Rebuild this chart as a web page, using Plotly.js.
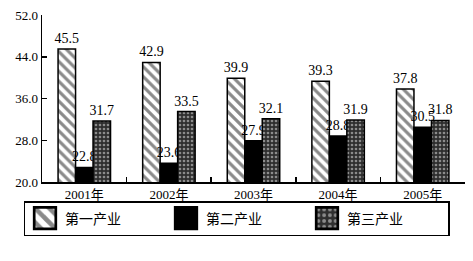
<!DOCTYPE html>
<html><head><meta charset="utf-8">
<script src="https://cdn.plot.ly/plotly-3.0.1.min.js"></script>
<style>
body{margin:0;background:#fff;}
#chart{width:473px;height:261px;}
#chart .legend .legendpoints path{transform:translate(20px,0px) scale(1.8);}
</style>
</head><body><div id="chart"></div>
<script>
const years = ['2001年','2002年','2003年','2004年','2005年'];
const primary = [45.5, 42.9, 39.9, 39.3, 37.8];
const secondary = [22.8, 23.6, 27.9, 28.8, 30.5];
const tertiary = [31.7, 33.5, 32.1, 31.9, 31.8];
const seriesNames = ['第一产业','第二产业','第三产业'];
const yTicks = [20, 28, 36, 44, 52];

const serif = 'Liberation Serif, Noto Sans CJK SC, serif';
const labelFont = {family: serif, size: 14, color: '#000'};

function bar(name, vals, marker){
  return {type:'bar', name:name, x:years, y:vals, marker:marker,
    text: vals.map(v=>v.toFixed(1)), textposition:'outside', cliponaxis:false,
    constraintext:'none', textfont:labelFont, hoverinfo:'skip'};
}
const traces = [
  bar(seriesNames[0], primary, {color:'#fff', line:{color:'#000', width:1.5},
    pattern:{shape:'\\', fgcolor:'#8a8a8a', bgcolor:'#fff', size:7, solidity:0.45}}),
  bar(seriesNames[1], secondary, {color:'#000', line:{color:'#000', width:1.5}}),
  bar(seriesNames[2], tertiary, {color:'#2e2e2e', line:{color:'#000', width:1.5},
    pattern:{shape:'.', fgcolor:'#8c8c8c', bgcolor:'#2e2e2e', size:4, solidity:0.35}})
];

const layout = {
  width:473, height:261,
  margin:{l:42, r:8, t:15, b:79},
  paper_bgcolor:'#fff', plot_bgcolor:'#fff',
  barmode:'group', bargap:0.38, bargroupgap:0,
  showlegend:true,
  legend:{orientation:'h', xref:'container', yref:'container', x:0.5, xanchor:'center',
    y:1-201/261, yanchor:'top', bordercolor:'#000', borderwidth:1.5,
    entrywidth:96, font:{family:'Noto Sans CJK SC', size:14, color:'#000'}, traceorder:'normal'},
  xaxis:{type:'category', range:[-0.5,4.5], autorange:false, showline:true, linecolor:'#000', linewidth:1.5,
    ticks:'inside', tickson:'boundaries', ticklen:5, tickcolor:'#000', tickwidth:1.5,
    tickfont:{family:serif, size:13, color:'#000'}, showgrid:false, zeroline:false, fixedrange:true},
  yaxis:{range:[20,52], autorange:false, tickvals:yTicks, ticktext:yTicks.map(v=>v.toFixed(1)),
    showline:true, linecolor:'#000', linewidth:1.5, ticks:'inside', ticklen:5,
    tickcolor:'#000', tickwidth:1.5, tickfont:{family:serif, size:13, color:'#000'},
    showgrid:false, zeroline:false, fixedrange:true},
  annotations:[
    {text:'%', xref:'container', yref:'container', x:22/473, y:1-1/261, xanchor:'center', yanchor:'top',
     showarrow:false, font:{family:serif, size:11, color:'#000'}},
    {text:'<b>某市“十五”期间县域经济三产业结构情况图</b>', xref:'container', yref:'container',
     x:0.5, y:1-252/261, xanchor:'center', yanchor:'middle', showarrow:false,
     font:{family:'Noto Sans CJK SC', size:12, color:'#000'}}
  ]
};
Plotly.newPlot('chart', traces, layout, {displayModeBar:false, staticPlot:true});
</script></body></html>
